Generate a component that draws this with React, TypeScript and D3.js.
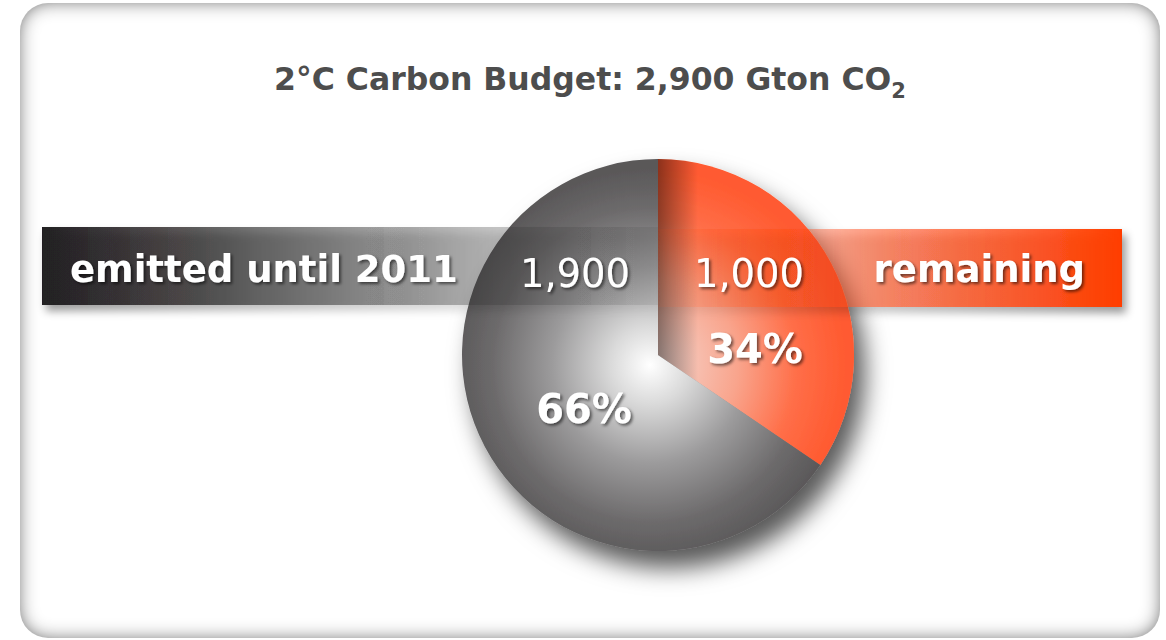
import React from 'react';
import * as d3 from 'd3';

// chart values (remaining first so it starts at 12 o'clock, clockwise)
const categories = ['remaining', 'emitted until 2011'];
const values = [1000, 1900];
const valueLabels = ['1,000', '1,900'];
const percentLabels = ['34%', '66%'];
const titleMain = '2°C Carbon Budget: 2,900 Gton CO';
const titleSub = '2';

const W = 1166;
const H = 640;
const cx = 658;
const cy = 355;
const radius = 196;

const FONT = 'Verdana, "DejaVu Sans", sans-serif';

function App() {
  const pie = d3.pie<number>().sort(null).value(d => d);
  const arcs = pie(values);
  const arc = d3.arc<d3.PieArcDatum<number>>().innerRadius(0).outerRadius(radius);

  // band extents
  const bandLeft = { x0: 42, x1: cx, y0: 227, y1: 305 };
  const bandRight = { x0: cx, x1: 1122, y0: 229, y1: 307 };

  // label placement relative to the pie centre
  const valuePos = [
    { x: cx + 91, y: cy - 68 },
    { x: cx - 83, y: cy - 68 },
  ];
  const pctPos = [
    { x: cx + 97, y: cy + 8 },
    { x: cx - 74, y: cy + 68 },
  ];

  return (
    <svg width={W} height={H} style={{ position: 'absolute', left: 0, top: 0 }}>
      <defs>
        <filter id="inset" x="-5%" y="-5%" width="110%" height="110%">
          <feFlood floodColor="#2e2e2e" />
          <feComposite in2="SourceAlpha" operator="out" />
          <feGaussianBlur stdDeviation="9" />
          <feComposite in2="SourceAlpha" operator="in" result="shadow" />
          <feMerge>
            <feMergeNode in="SourceGraphic" />
            <feMergeNode in="shadow" />
          </feMerge>
        </filter>
        <filter id="pieShadow" x="-20%" y="-20%" width="150%" height="150%">
          <feDropShadow dx="11" dy="17" stdDeviation="12" floodColor="#000" floodOpacity="0.65" />
        </filter>
        <filter id="bandShadow" x="-5%" y="-30%" width="110%" height="170%">
          <feDropShadow dx="4" dy="6" stdDeviation="4" floodColor="#000" floodOpacity="0.4" />
        </filter>
        <filter id="textShadow" x="-10%" y="-20%" width="120%" height="150%">
          <feDropShadow dx="2" dy="2" stdDeviation="1.5" floodColor="#000" floodOpacity="0.55" />
        </filter>
        {/* gradients live in the translated pie space */}
        <radialGradient id="grayGrad" gradientUnits="userSpaceOnUse" cx={-8} cy={10} r={radius}>
          <stop offset="0" stopColor="#ffffff" />
          <stop offset="0.2" stopColor="#dadada" />
          <stop offset="0.5" stopColor="#9c9b9c" />
          <stop offset="0.8" stopColor="#6d6b6c" />
          <stop offset="1" stopColor="#5a5859" />
        </radialGradient>
        <radialGradient id="orangeGrad" gradientUnits="userSpaceOnUse" cx={-8} cy={10} r={radius}>
          <stop offset="0" stopColor="#f4dcd6" />
          <stop offset="0.45" stopColor="#f9a48c" />
          <stop offset="0.75" stopColor="#ff6e48" />
          <stop offset="1" stopColor="#ff5a30" />
        </radialGradient>
        <linearGradient id="edgeShade" gradientUnits="userSpaceOnUse" x1={cx} y1="0" x2={cx + 40} y2="0">
          <stop offset="0" stopColor="#000" stopOpacity="0.45" />
          <stop offset="1" stopColor="#000" stopOpacity="0" />
        </linearGradient>
        <linearGradient id="leftBand" gradientUnits="userSpaceOnUse" x1={bandLeft.x0} y1="0" x2={bandLeft.x1} y2="0">
          <stop offset="0" stopColor="#231f20" stopOpacity="1" />
          <stop offset="0.35" stopColor="#262626" stopOpacity="0.62" />
          <stop offset="0.68" stopColor="#2c2c2c" stopOpacity="0.32" />
          <stop offset="1" stopColor="#3a3a3a" stopOpacity="0.1" />
        </linearGradient>
        <linearGradient id="rightBand" gradientUnits="userSpaceOnUse" x1={bandRight.x0} y1="0" x2={bandRight.x1} y2="0">
          <stop offset="0" stopColor="#ff3d00" stopOpacity="0.06" />
          <stop offset="0.33" stopColor="#ff4812" stopOpacity="0.38" />
          <stop offset="0.55" stopColor="#ff4a1a" stopOpacity="0.62" />
          <stop offset="1" stopColor="#ff3d00" stopOpacity="1" />
        </linearGradient>
        <clipPath id="orangeClip">
          <path d={arc(arcs[0]) || ''} transform={`translate(${cx},${cy})`} />
        </clipPath>
      </defs>

      {/* frame */}
      <rect x={20} y={3} width={1140} height={635} rx={28} ry={28} fill="#fff" filter="url(#inset)" />

      {/* title */}
      <text x={590} y={90} textAnchor="middle" fontFamily={FONT} fontWeight="bold" fontSize={31.5} fill="#4d4d4d">
        {titleMain}
        <tspan fontSize={21} dy={8}>{titleSub}</tspan>
      </text>

      {/* pie */}
      <g transform={`translate(${cx},${cy})`} filter="url(#pieShadow)">
        {arcs.map((a, i) => (
          <path key={categories[i]} d={arc(a) || ''} fill={i === 0 ? 'url(#orangeGrad)' : 'url(#grayGrad)'} />
        ))}
      </g>
      <rect x={cx} y={cy - radius} width={60} height={radius * 2} fill="url(#edgeShade)" clipPath="url(#orangeClip)" />

      {/* bands */}
      <rect x={bandLeft.x0} y={bandLeft.y0} width={bandLeft.x1 - bandLeft.x0} height={bandLeft.y1 - bandLeft.y0}
        fill="url(#leftBand)" filter="url(#bandShadow)" />
      <rect x={bandRight.x0} y={bandRight.y0} width={bandRight.x1 - bandRight.x0} height={bandRight.y1 - bandRight.y0}
        fill="url(#rightBand)" filter="url(#bandShadow)" />

      {/* band captions */}
      <g fontFamily={FONT} fontWeight="bold" fontSize={37} fill="#fff" filter="url(#textShadow)">
        <text x={70} y={282}>{categories[1]}</text>
        <text x={1085} y={282} textAnchor="end">{categories[0]}</text>
      </g>

      {/* values */}
      <g fontFamily={FONT} fontSize={38.5} fill="#fff" textAnchor="middle" filter="url(#textShadow)">
        {valueLabels.map((v, i) => (
          <text key={v} x={valuePos[i].x} y={valuePos[i].y}>{v}</text>
        ))}
      </g>
      <g fontFamily={FONT} fontWeight="bold" fontSize={40} fill="#fff" textAnchor="middle" filter="url(#textShadow)">
        {percentLabels.map((v, i) => (
          <text key={v} x={pctPos[i].x} y={pctPos[i].y}>{v}</text>
        ))}
      </g>
    </svg>
  );
}

export default App;
